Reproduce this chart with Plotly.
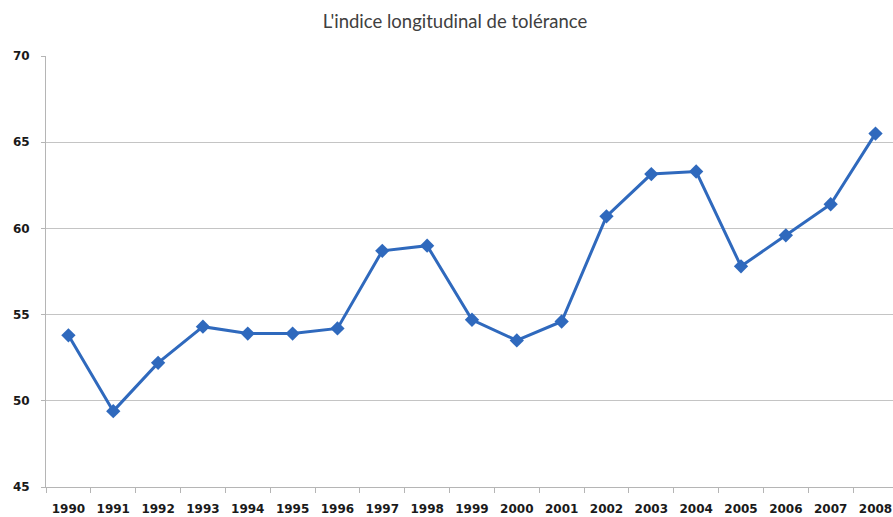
import plotly.graph_objects as go

years = [str(y) for y in range(1990, 2009)]
values = [53.8, 49.4, 52.2, 54.3, 53.9, 53.9, 54.2, 58.7, 59.0, 54.7,
          53.5, 54.6, 60.7, 63.15, 63.3, 57.8, 59.6, 61.4, 65.5]
y_ticks = [45, 50, 55, 60, 65, 70]
title_text = "L'indice longitudinal de tolérance"

fig = go.Figure()
fig.add_trace(go.Scatter(
    x=years, y=values, mode="lines+markers",
    line=dict(color="#2f69bd", width=3),
    marker=dict(symbol="diamond", size=11, color="#2f69bd"),
    showlegend=False,
))

fig.update_layout(
    width=893, height=517,
    margin=dict(l=46, r=0, t=56, b=30, autoexpand=False),
    paper_bgcolor="white", plot_bgcolor="white",
    title=dict(text=title_text, x=455 / 893, xanchor="center", y=1 - 22 / 517, yanchor="middle",
               font=dict(family="Lato", size=18.5, color="#404040")),
    xaxis=dict(
        type="category", range=[-0.5, 18.39], automargin=False,
        showgrid=False, showline=True, linecolor="#b5b5b5", linewidth=1,
        ticks="outside", tickson="boundaries", ticklen=5, tickcolor="#b5b5b5",
        ticklabelstandoff=11,
        tickfont=dict(family="DejaVu Sans", size=12, color="#1a1a1a", weight="bold"),
        fixedrange=True,
    ),
    yaxis=dict(
        range=[45, 70], tickvals=y_ticks, automargin=False,
        showgrid=True, gridcolor="#c4c4c4", gridwidth=1,
        showline=True, linecolor="#b5b5b5", linewidth=1,
        ticks="outside", ticklen=4, tickcolor="#b5b5b5",
        ticklabelstandoff=9,
        tickfont=dict(family="DejaVu Sans", size=12, color="#1a1a1a", weight="bold"),
        zeroline=False, fixedrange=True,
    ),
)

fig.write_html("out.html", config={"displayModeBar": False},
               post_script="document.body.style.margin='0';")
